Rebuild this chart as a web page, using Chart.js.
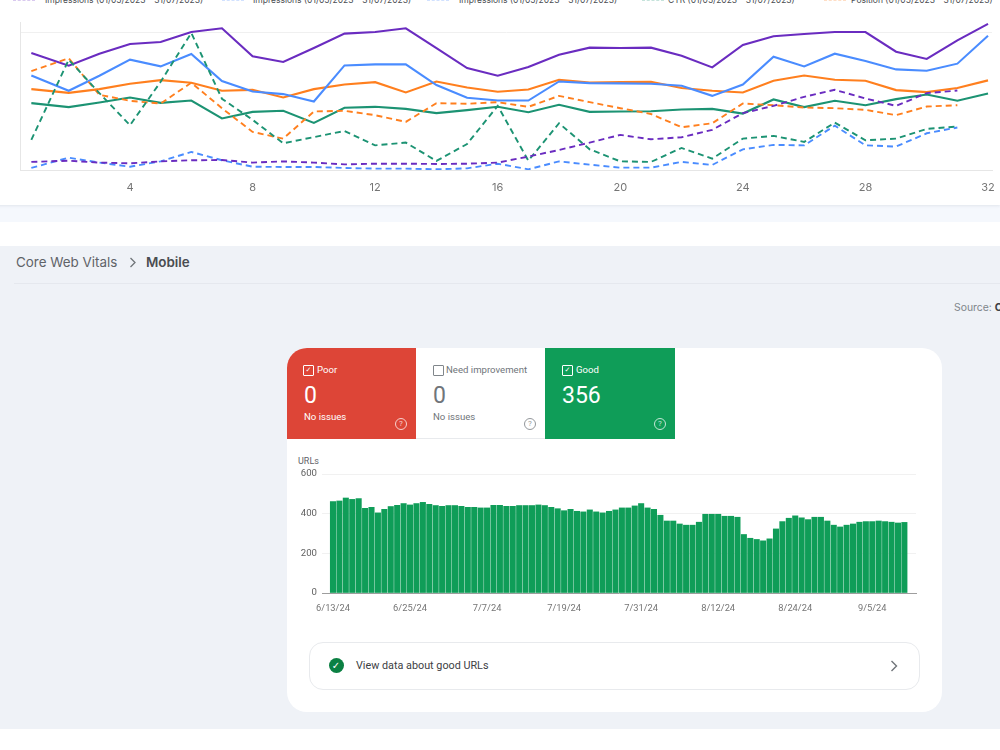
<!DOCTYPE html>
<html>
<head>
<meta charset="utf-8">
<title>Search performance and Core Web Vitals</title>
<script src="https://cdn.jsdelivr.net/npm/chart.js@4/dist/chart.umd.min.js"></script>
<style>
  html, body { margin: 0; padding: 0; width: 1000px; height: 750px; overflow: hidden; background: #fff; font-family: Roboto, sans-serif; }
  .abs { position: absolute; white-space: nowrap; }
  canvas { position: absolute; }
  #band { left: 0; top: 205px; width: 1000px; height: 17px; background: #f5f8fd; }
  #topCard { left: -12px; top: -12px; width: 1012px; height: 217px; background: #fff; border-radius: 0 0 0 12px; box-shadow: 0 1px 3px rgba(60,70,90,.10); }
  #page { left: 0; top: 246px; width: 1000px; height: 483px; background: #eff2f7; }
  #rule { left: 14px; top: 283px; width: 986px; height: 1px; background: #e5e8ee; }
  .legend { font: 8.5px Inter, sans-serif; color: #4a4d51; top: -5px; }
  .swatch { top: 0; height: 0; width: 22px; border-top: 1.5px dashed; opacity: .25; }
  .crumb { font: 13.4px Inter, sans-serif; color: #5f6368; top: 254px; }
  #source { left: 954px; top: 301px; font: 10.4px Inter, sans-serif; color: #80868b; }
  #source b { color: #3c4043; font-weight: 700; }
  #card { left: 286.5px; top: 348px; width: 655px; height: 364px; background: #fff; border-radius: 20px; }
  .tile { top: 347.5px; width: 129px; height: 91.5px; box-sizing: border-box; }
  #poor { left: 286.5px; background: #dd4537; border-top-left-radius: 20px; }
  #need { left: 415.5px; background: #fff; border-bottom: 1px solid #e8eaed; }
  #good { left: 544.5px; width: 130px; background: #0f9d58; }
  .box { top: 365px; width: 9px; height: 9px; border: 1px solid; border-radius: 1px; box-sizing: content-box; text-align: center; font: 7px/9px "DejaVu Sans", sans-serif; }
  .name { top: 364px; font: 9.6px Roboto, sans-serif; }
  .num { top: 382px; font: 23px Roboto, sans-serif; }
  .sub { top: 410.5px; font: 9.6px Roboto, sans-serif; }
  .help { top: 418px; width: 10px; height: 10px; border: 1px solid; border-radius: 50%; text-align: center; font: 8px/10px Roboto, sans-serif; opacity: .75; }
  #urls { left: 298px; top: 456px; font: 9px Roboto, sans-serif; color: #5f6368; }
  #cta { left: 309px; top: 642px; width: 611px; height: 47.5px; box-sizing: border-box; border: 1px solid #e8eaed; border-radius: 14px; }
  #ctaIcon { left: 328.5px; top: 658px; width: 15px; height: 15px; border-radius: 50%; background: #0b8043; color: #fff; text-align: center; font: bold 10px/15px "DejaVu Sans", sans-serif; }
  #ctaText { left: 356px; top: 659px; font: 10.8px Roboto, sans-serif; color: #3c4043; }
</style>
</head>
<body>
<div class="abs" id="band"></div>
<div class="abs" id="topCard"></div>
<div class="abs" id="page"></div>
<div class="abs" id="rule"></div>

<div class="abs swatch" style="left:13px;color:#6a2cc0"></div>
<div class="abs legend" style="left:45px">Impressions (01/05/2023 - 31/07/2023)</div>
<div class="abs swatch" style="left:222px;color:#4a8cff"></div>
<div class="abs legend" style="left:253px">Impressions (01/05/2023 - 31/07/2023)</div>
<div class="abs swatch" style="left:427px;color:#4a8cff"></div>
<div class="abs legend" style="left:459px">Impressions (01/05/2023 - 31/07/2023)</div>
<div class="abs swatch" style="left:642px;color:#1c9373"></div>
<div class="abs legend" style="left:668px">CTR (01/05/2023 - 31/07/2023)</div>
<div class="abs swatch" style="left:824px;color:#ff7f1e"></div>
<div class="abs legend" style="left:851px">Position (01/05/2023 - 31/07/2023)</div>

<canvas id="trend" style="left:0;top:0"></canvas>

<div class="abs crumb" style="left:16px">Core Web Vitals</div>
<svg class="abs" style="left:128px;top:257px" width="10" height="11"><path d="M2.5 1 L7 5.5 L2.5 10" fill="none" stroke="#70757a" stroke-width="1.3"/></svg>
<div class="abs crumb" style="left:146px;font-weight:600;color:#4a4d51">Mobile</div>
<div class="abs" id="source">Source: <b>C</b></div>

<div class="abs" id="card"></div>
<div class="abs tile" id="poor"></div>
<div class="abs tile" id="need"></div>
<div class="abs tile" id="good"></div>

<div class="abs box" style="left:303px;color:#fff">✓</div>
<div class="abs name" style="left:317px;color:#fff">Poor</div>
<div class="abs num" style="left:304px;color:#fff">0</div>
<div class="abs sub" style="left:304px;color:#fff">No issues</div>
<div class="abs help" style="left:395px;color:#fff">?</div>

<div class="abs box" style="left:433px;color:#80868b"></div>
<div class="abs name" style="left:446px;color:#70757a">Need improvement</div>
<div class="abs num" style="left:433px;color:#70757a">0</div>
<div class="abs sub" style="left:433px;color:#70757a">No issues</div>
<div class="abs help" style="left:524px;color:#70757a">?</div>

<div class="abs box" style="left:562px;color:#fff">✓</div>
<div class="abs name" style="left:576px;color:#fff">Good</div>
<div class="abs num" style="left:562px;color:#fff">356</div>
<div class="abs help" style="left:654px;color:#fff">?</div>

<div class="abs" id="urls">URLs</div>
<canvas id="urlBars" style="left:290px;top:465px"></canvas>

<div class="abs" id="cta"></div>
<div class="abs" id="ctaIcon">✓</div>
<div class="abs" id="ctaText">View data about good URLs</div>
<svg class="abs" style="left:889px;top:660px" width="10" height="12"><path d="M2.5 1 L7.5 6 L2.5 11" fill="none" stroke="#70757a" stroke-width="1.4"/></svg>

<script>
// Day positions along the performance chart (the first sample sits slightly left of day 1)
const days = [0.78,2,3,4,5,6,7,8,9,10,11,12,13,14,15,16,17,18,19,20,21,22,23,24,25,26,27,28,29,30,31,32];
const dayTicks = [4,8,12,16,20,24,28,32];

// Current period, indexed values
const purpleSolid = [85.4,76.1,84.9,92,93.4,100.7,103.4,82.9,78.8,89,99.5,100.7,103.4,89,74.4,68.8,75.1,84.1,89.3,89,89.3,83.4,74.9,91.2,97.6,99.3,100.7,100.7,86.3,81,94.6,106.6];
const blueSolid = [69,57.8,68.8,80.5,75.6,84.6,64.9,57.3,55.4,50,76.3,77.1,77.1,62,52.7,50.7,50.7,64.6,63.4,63.2,62.9,61.5,54.1,62.4,82.7,75.6,84.9,79.5,73.4,72.4,77.6,98];
const orangeSolid = [59,56.3,59,62.9,65.6,63.7,57.8,58.5,52.9,59,62.4,64.1,56.6,64.6,60.2,57.1,58.8,65.9,63.9,64.1,64.4,59.8,57.8,56.6,65.1,69,65.9,65.1,58.3,56.8,59.8,65.4];
const greenSolid = [48.8,45.9,49.3,52.9,49,50.7,37.6,42.4,43.2,34.4,45.4,46.1,44.6,41.5,43.7,46.1,42.2,47.6,42.4,42.7,42.9,44.1,44.6,41.2,51.5,45.9,50.5,47.3,51.7,55.1,50.5,55.9];

// Comparison period, one day shorter
const orangeDashed = [72.2,81.5,54.9,50.5,48.5,63.7,45.1,27.8,22.9,42.7,43.2,40,35.1,48.8,48.3,49.5,46.1,54.1,49.5,45.1,40.9,31.2,34.1,48.5,47.3,45.6,45.1,43.9,40,46.3,47.3];
const greenDashed = [22,80.5,56.1,32.7,64.4,100,52,36.6,19.5,24,28.5,18,20,6.6,19,46.8,6.8,34.1,15.1,6.3,5.9,16.1,8.3,22.9,24.9,20.5,34.6,21.7,22.9,30,31.7];
const purpleDashed = [5.9,6.8,5.4,4.9,6.3,7.1,7.3,5.4,6.3,5.4,4.1,4.6,4.6,4.4,4.6,5.4,9.8,14.6,20,25.6,22.4,23.9,29.3,41.5,46.8,53.4,58.5,52.2,46.8,56.1,58];
const blueDashed = [1.5,9,5.4,2.4,6.3,13.2,7.1,2.4,2.2,2.2,1.5,1,1,0.5,1.2,4.6,0.5,6.3,3.9,1.7,1.7,5.9,3.7,15.1,18.3,18,32.4,18,17.1,26.8,31];

// Daily count of good mobile URLs, 6/13/24 onwards
const goodUrls = [461,464,479,472,476,427,432,404,422,436,442,451,444,451,457,447,441,437,441,441,437,432,432,429,429,442,442,437,437,441,441,441,444,441,432,425,415,422,412,409,419,409,404,412,419,429,429,439,451,429,422,392,363,363,348,342,342,357,397,397,397,387,387,382,295,276,270,263,273,323,360,377,389,379,370,382,382,363,342,333,342,348,357,360,360,363,360,357,353,356];
const urlDateTicks = [0,12,24,36,48,60,72,84];
const urlDateLabels = ["6/13/24","6/25/24","7/7/24","7/19/24","7/31/24","8/12/24","8/24/24","9/5/24"];
const urlValueTicks = [0,200,400,600];

const PURPLE = '#6a2cc0', BLUE = '#4a8cff', ORANGE = '#ff7f1e', GREEN = '#1c9373';

function pairs(values) { return values.map((v, i) => ({ x: days[i], y: v })); }
function solid(label, values, color) {
  return { label, data: pairs(values), borderColor: color, borderWidth: 2.1, pointRadius: 0, tension: 0, fill: false };
}
function dashed(label, values, color) {
  return { label, data: pairs(values), borderColor: color, borderWidth: 1.9, borderDash: [6, 4], pointRadius: 0, tension: 0, fill: false };
}

function sizeCanvas(id, w, h) {
  const c = document.getElementById(id);
  c.width = w; c.height = h; c.style.width = w + 'px'; c.style.height = h + 'px';
  return c;
}

new Chart(sizeCanvas('trend', 1000, 205), {
  type: 'line',
  data: { datasets: [
    dashed('Impressions (01/05/2023 - 31/07/2023)', purpleDashed, PURPLE),
    dashed('Impressions (01/05/2023 - 31/07/2023)', blueDashed, BLUE),
    dashed('CTR (01/05/2023 - 31/07/2023)', greenDashed, GREEN),
    dashed('Position (01/05/2023 - 31/07/2023)', orangeDashed, ORANGE),
    solid('Purple', purpleSolid, PURPLE),
    solid('Blue', blueSolid, BLUE),
    solid('Orange', orangeSolid, ORANGE),
    solid('Green', greenSolid, GREEN)
  ] },
  options: {
    responsive: false, animation: false, events: [],
    layout: { padding: { top: 22, right: 8, bottom: 0, left: 0 } },
    plugins: { legend: { display: false }, tooltip: { enabled: false } },
    scales: {
      x: {
        type: 'linear', min: 0.41, max: 32.13,
        afterBuildTicks: s => { s.ticks = dayTicks.map(v => ({ value: v })); },
        afterFit: s => { s.height = 35; s.paddingLeft = 0; s.paddingRight = 0; },
        grid: { display: false, drawTicks: false },
        border: { color: '#e6e6e6', width: 1 },
        ticks: { color: '#757575', font: { family: 'Inter', size: 11 }, maxRotation: 0, autoSkip: false, padding: 11 }
      },
      y: {
        min: 0, max: 108,
        afterBuildTicks: s => { s.ticks = [{ value: 0 }, { value: 100 }]; },
        afterFit: s => { s.width = 20; s.paddingTop = 0; s.paddingBottom = 0; },
        border: { color: '#e6e6e6', width: 1 },
        grid: { color: c => c.tick && c.tick.value === 100 ? '#f0f0f0' : 'transparent', borderDash: [1, 2], drawTicks: false },
        ticks: { display: false }
      }
    }
  }
});

new Chart(sizeCanvas('urlBars', 640, 150), {
  type: 'bar',
  data: { datasets: [{
    label: 'Good',
    data: goodUrls.map((v, i) => ({ x: i, y: v })),
    backgroundColor: '#0f9d58',
    barThickness: 5.4
  }] },
  options: {
    responsive: false, animation: false, events: [],
    layout: { padding: { top: 9, right: 14, bottom: 0, left: 0 } },
    plugins: { legend: { display: false }, tooltip: { enabled: false } },
    scales: {
      x: {
        type: 'linear', offset: false, min: -1.71, max: 90.81,
        afterBuildTicks: s => { s.ticks = urlDateTicks.map(v => ({ value: v })); },
        afterFit: s => { s.height = 22; s.paddingLeft = 0; s.paddingRight = 0; },
        grid: { display: false, drawTicks: false },
        border: { color: '#9e9e9e', width: 1 },
        ticks: {
          color: '#757575', font: { family: 'Roboto', size: 9.3 }, maxRotation: 0, autoSkip: false, padding: 10,
          callback: v => urlDateLabels[urlDateTicks.indexOf(v)]
        }
      },
      y: {
        min: 0, max: 600,
        afterBuildTicks: s => { s.ticks = urlValueTicks.map(v => ({ value: v })); },
        afterFit: s => { s.width = 32; s.paddingTop = 0; s.paddingBottom = 0; },
        border: { display: false },
        grid: { color: '#f1f1f1', drawTicks: false },
        ticks: { color: '#616161', font: { family: 'Roboto', size: 9.6 }, padding: 5 }
      }
    }
  }
});
</script>
</body>
</html>
